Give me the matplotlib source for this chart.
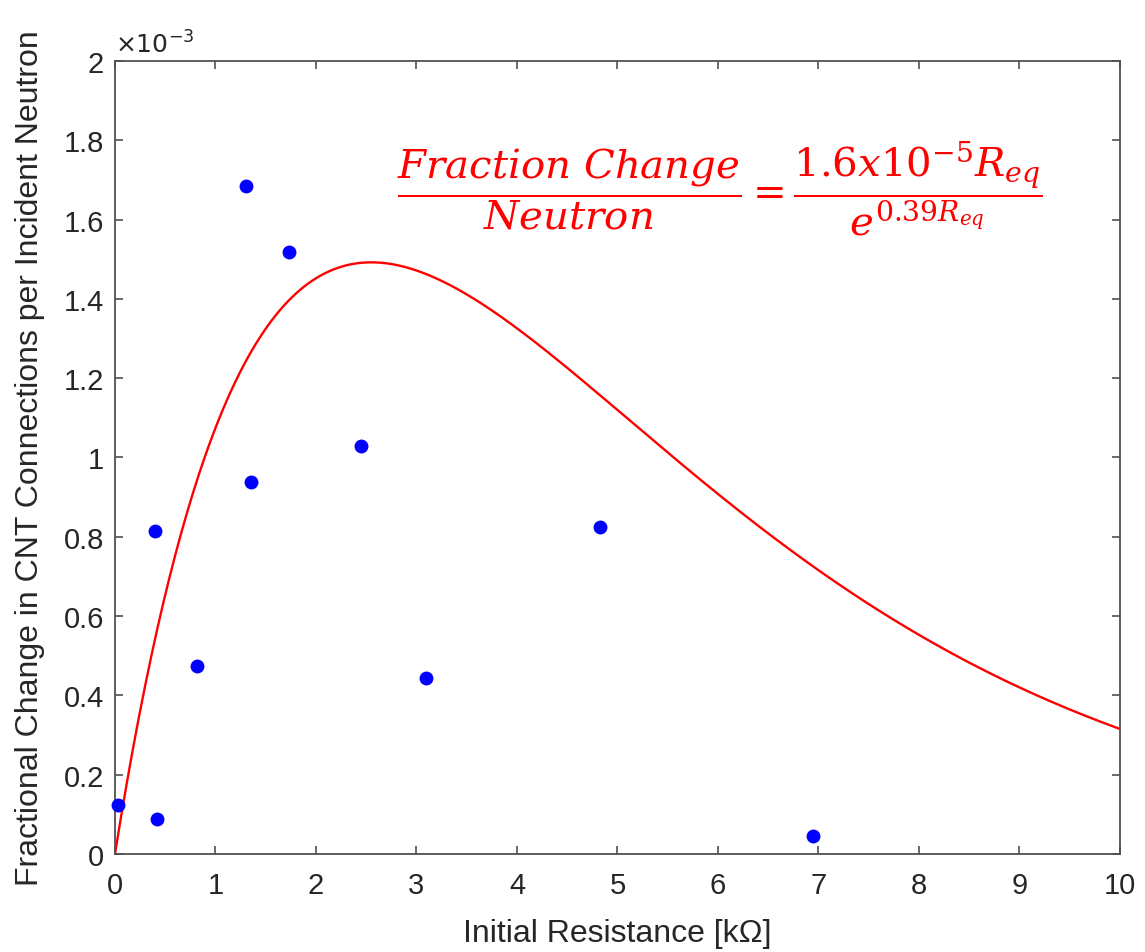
import numpy as np
import matplotlib
matplotlib.use("Agg")
import matplotlib.pyplot as plt

# Measured data points
resistance_kohm = [0.03, 0.40, 0.42, 0.82, 1.30, 1.35, 1.73, 2.45, 3.10, 4.83, 6.95]
fraction_change = [0.123e-3, 0.815e-3, 0.088e-3, 0.473e-3, 1.685e-3, 0.938e-3,
                   1.518e-3, 1.030e-3, 0.443e-3, 0.825e-3, 0.045e-3]

# Fit curve parameters (annotation shows rounded values; y axis is x1e-3)
fit_a = 1.59e-3
fit_b = 0.392

x_ticks = [0, 1, 2, 3, 4, 5, 6, 7, 8, 9, 10]
y_ticks = [0, 0.2e-3, 0.4e-3, 0.6e-3, 0.8e-3, 1.0e-3, 1.2e-3, 1.4e-3, 1.6e-3, 1.8e-3, 2.0e-3]
y_tick_labels = ["0", "0.2", "0.4", "0.6", "0.8", "1", "1.2", "1.4", "1.6", "1.8", "2"]

plt.rcParams['font.family'] = ['Liberation Sans', 'DejaVu Sans']
plt.rcParams['mathtext.fontset'] = 'dejavuserif'

text_color = '#262626'
axis_color = '#505050'

fig = plt.figure(figsize=(11.45, 9.53), dpi=100)
ax = fig.add_axes([0.1004, 0.1028, 0.8777, 0.8322])

r = np.linspace(0, 10, 500)
ax.plot(r, fit_a * r * np.exp(-fit_b * r), color='#ff0000', lw=1.7, zorder=2)
ax.plot(resistance_kohm, fraction_change, 'o', color='#0000ff', ms=10,
        markeredgewidth=0, zorder=3, clip_on=False)

ax.set_xlim(0, 10)
ax.set_ylim(0, 2e-3)
ax.set_xticks(x_ticks)
ax.set_xticklabels([str(t) for t in x_ticks])
ax.set_yticks(y_ticks)
ax.set_yticklabels(y_tick_labels)
ax.tick_params(direction='in', length=6, width=1.2, colors=axis_color,
               labelcolor=text_color, labelsize=21, top=True, right=True)
ax.tick_params(axis='x', pad=12)
ax.tick_params(axis='y', pad=8)
for s in ax.spines.values():
    s.set_color(axis_color)
    s.set_linewidth(1.3)

ax.set_xlabel('Initial Resistance [k\u03a9]', fontsize=23, color=text_color, labelpad=14)
ax.set_ylabel('Fractional Change in CNT Connections per Incident Neutron',
              fontsize=23, color=text_color, labelpad=13)

ax.text(0.0, 1.004, r'$\times10^{-3}$', transform=ax.transAxes, fontsize=18,
        color=text_color, ha='left', va='bottom', family='DejaVu Sans',
        math_fontfamily='dejavusans')

ax.text(0.602, 0.840,
        r'$\dfrac{Fraction\ Change}{Neutron}=\dfrac{1.6x10^{-5}R_{eq}}{e^{0.39R_{eq}}}$',
        transform=ax.transAxes, fontsize=29, color='#ff0000', ha='center', va='center')

fig.savefig('out.png', dpi=100)
